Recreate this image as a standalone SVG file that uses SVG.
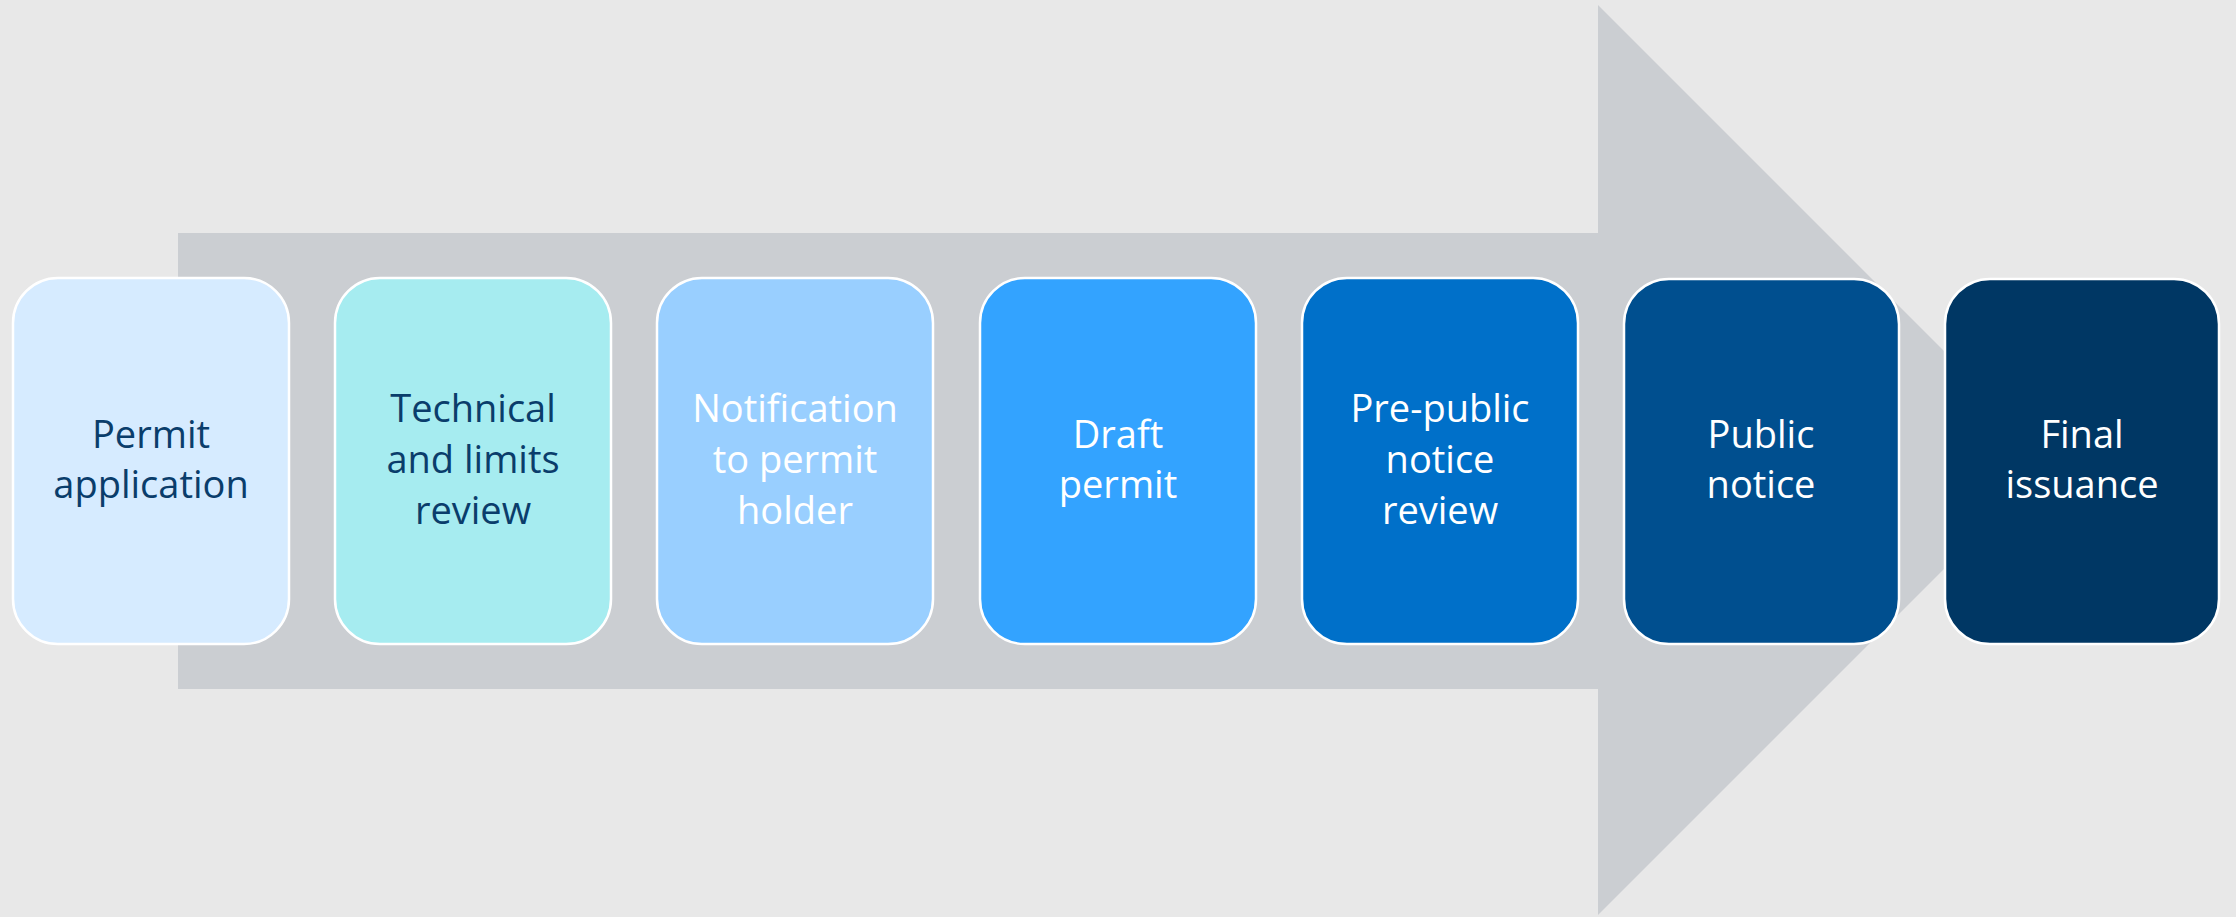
<svg xmlns="http://www.w3.org/2000/svg" width="2236" height="917" viewBox="0 0 2236 917">
<style>
.box{stroke:#ffffff;stroke-width:2.5}
.t{font-family:"Open Sans","Liberation Sans",sans-serif;font-size:38px;text-anchor:middle}
.dark{fill:#0A3D6B}
.light{fill:#ffffff}
</style>
<rect width="2236" height="917" fill="#E8E8E8"/>
<g id="connectors">
<polygon points="178,233 1598,233 1598,5 2053,460 1598,915 1598,689 178,689" fill="#CBCED2"/>
</g>
<g id="n1"><rect class="box" x="13" y="278" width="276" height="366" rx="45" fill="#D6EBFF"/>
<text class="t dark" x="151" y="448">Permit</text><text class="t dark" x="151" y="498">application</text></g>
<g id="n2"><rect class="box" x="335" y="278" width="276" height="366" rx="45" fill="#A6ECF0"/>
<text class="t dark" x="473" y="422">Technical</text><text class="t dark" x="473" y="473">and limits</text><text class="t dark" x="473" y="524">review</text></g>
<g id="n3"><rect class="box" x="657" y="278" width="276" height="366" rx="45" fill="#99CFFF"/>
<text class="t light" x="795" y="422">Notification</text><text class="t light" x="795" y="473">to permit</text><text class="t light" x="795" y="524">holder</text></g>
<g id="n4"><rect class="box" x="980" y="278" width="276" height="366" rx="45" fill="#33A3FF"/>
<text class="t light" x="1118" y="448">Draft</text><text class="t light" x="1118" y="498">permit</text></g>
<g id="n5"><rect class="box" x="1302" y="278" width="276" height="366" rx="45" fill="#0070C9"/>
<text class="t light" x="1440" y="422">Pre-public</text><text class="t light" x="1440" y="473">notice</text><text class="t light" x="1440" y="524">review</text></g>
<g id="n6"><rect class="box" x="1624" y="279" width="275" height="365" rx="45" fill="#004F8F"/>
<text class="t light" x="1761" y="448">Public</text><text class="t light" x="1761" y="498">notice</text></g>
<g id="n7"><rect class="box" x="1945" y="279" width="274" height="365" rx="45" fill="#003764"/>
<text class="t light" x="2082" y="448">Final</text><text class="t light" x="2082" y="498">issuance</text></g>
</svg>
